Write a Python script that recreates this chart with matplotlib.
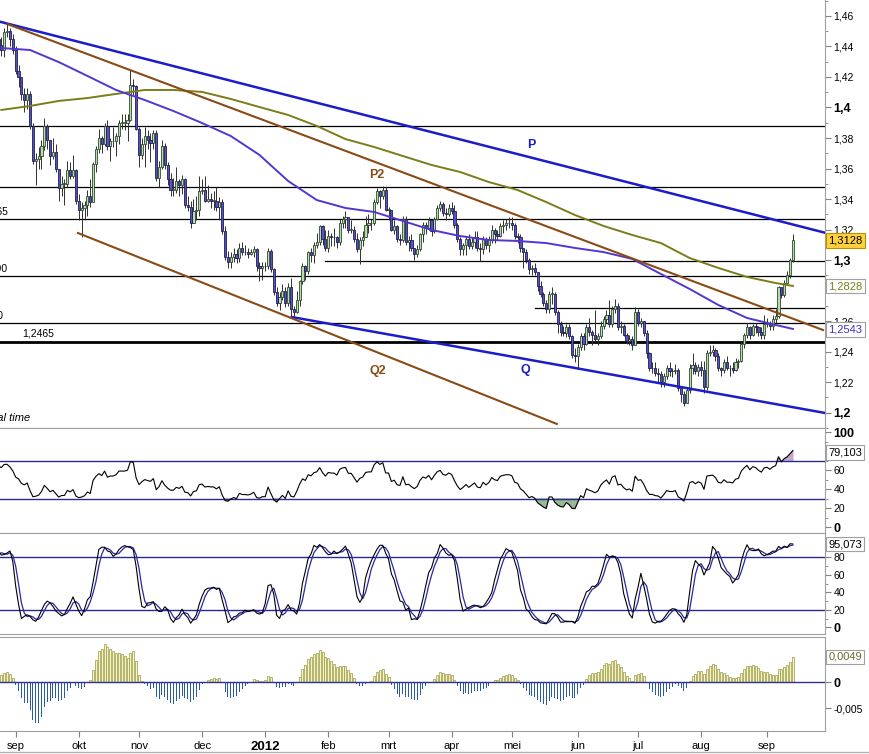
import numpy as np
import pandas as pd
import matplotlib
matplotlib.use("Agg")
import matplotlib.pyplot as plt
from matplotlib.lines import Line2D

plt.rcParams["font.family"] = ["Liberation Sans", "DejaVu Sans"]

# EUR/USD daily candles from 25 jul 2011 to 14 sep 2012.
# the first 23 days are only there to warm up the indicators (outside the view)
start_date = "2011-07-25"
n_warm = 23
first_open = 1.4370

close = [
    # jul/aug 2011 (warm-up)
    1.4380, 1.4500, 1.4430, 1.4320, 1.4390, 1.4250, 1.4190, 1.4310, 1.4080, 1.4280, 1.4180, 1.4390,
    1.4190, 1.4240, 1.4240, 1.4440, 1.4400, 1.4440, 1.4320, 1.4390, 1.4400, 1.4450, 1.4410,
    # aug 2011
    1.4380, 1.4495, 1.4500, 1.4450, 1.4375,
    # sep
    1.4240, 1.4200, 1.4090, 1.4050, 1.4090, 1.3880, 1.3650, 1.3660, 1.3680, 1.3750, 1.3880,
    1.3790, 1.3680, 1.3710, 1.3600, 1.3470, 1.3500, 1.3500, 1.3590, 1.3550, 1.3590, 1.3390,
    # okt
    1.3330, 1.3340, 1.3360, 1.3420, 1.3380, 1.3630, 1.3730, 1.3800, 1.3760, 1.3880, 1.3750,
    1.3780, 1.3780, 1.3810, 1.3900, 1.3900, 1.3900, 1.3920, 1.4150, 1.4140, 1.3860,
    # nov
    1.3690, 1.3760, 1.3810, 1.3790, 1.3770, 1.3830, 1.3540, 1.3610, 1.3750, 1.3620, 1.3530,
    1.3460, 1.3460, 1.3520, 1.3490, 1.3530, 1.3360, 1.3350, 1.3240, 1.3320, 1.3330, 1.3450,
    # dec
    1.3460, 1.3390, 1.3400, 1.3390, 1.3390, 1.3350, 1.3380, 1.3190, 1.3020, 1.2990, 1.3020,
    1.3040, 1.3010, 1.3080, 1.3050, 1.3050, 1.3040, 1.3050, 1.3070, 1.2960, 1.2945, 1.2960,
    # jan 2012
    1.2960, 1.3060, 1.2940, 1.2790, 1.2720, 1.2760, 1.2800, 1.2720, 1.2820, 1.2680, 1.2660,
    1.2740, 1.2860, 1.2960, 1.2930, 1.3050, 1.3030, 1.3100, 1.3120, 1.3220, 1.3140, 1.3080,
    # feb
    1.3160, 1.3150, 1.3150, 1.3120, 1.3240, 1.3270, 1.3280, 1.3200, 1.3200, 1.3140, 1.3070,
    1.3130, 1.3150, 1.3230, 1.3240, 1.3240, 1.3380, 1.3450, 1.3420, 1.3460, 1.3330,
    # mrt
    1.3330, 1.3200, 1.3220, 1.3140, 1.3130, 1.3270, 1.3120, 1.3130, 1.3080, 1.3040, 1.3070,
    1.3170, 1.3230, 1.3210, 1.3260, 1.3190, 1.3270, 1.3340, 1.3370, 1.3310, 1.3300, 1.3340,
    # apr
    1.3320, 1.3230, 1.3140, 1.3070, 1.3100, 1.3140, 1.3090, 1.3120, 1.3150, 1.3080, 1.3070,
    1.3140, 1.3100, 1.3130, 1.3200, 1.3170, 1.3160, 1.3220, 1.3230, 1.3240, 1.3240,
    # mei
    1.3230, 1.3160, 1.3150, 1.3080, 1.3050, 1.3000, 1.2940, 1.2950, 1.2920, 1.2830, 1.2780,
    1.2720, 1.2680, 1.2780, 1.2780, 1.2660, 1.2580, 1.2530, 1.2520, 1.2560, 1.2500, 1.2380, 1.2370,
    # jun
    1.2430, 1.2500, 1.2450, 1.2560, 1.2530, 1.2510, 1.2480, 1.2500, 1.2570, 1.2610, 1.2640,
    1.2580, 1.2680, 1.2700, 1.2560, 1.2570, 1.2510, 1.2470, 1.2480, 1.2440, 1.2660,
    # jul
    1.2590, 1.2600, 1.2520, 1.2390, 1.2290, 1.2290, 1.2260, 1.2250, 1.2200, 1.2240, 1.2290,
    1.2270, 1.2270, 1.2280, 1.2160, 1.2120, 1.2060, 1.2150, 1.2290, 1.2310, 1.2270, 1.2300,
    # aug
    1.2280, 1.2170, 1.2390, 1.2400, 1.2410, 1.2370, 1.2290, 1.2280, 1.2330, 1.2290, 1.2290,
    1.2280, 1.2330, 1.2340, 1.2450, 1.2510, 1.2560, 1.2510, 1.2570, 1.2560, 1.2530, 1.2510, 1.2580,
    # sep
    1.2590, 1.2570, 1.2610, 1.2630, 1.2820, 1.2770, 1.2850, 1.2900, 1.3000, 1.3128,
]

high = [
    1.4440, 1.4520, 1.4530, 1.4440, 1.4420, 1.4450, 1.4290, 1.4330, 1.4340, 1.4330, 1.4360, 1.4400,
    1.4410, 1.4270, 1.4300, 1.4460, 1.4480, 1.4470, 1.4440, 1.4430, 1.4440, 1.4490, 1.4470,
    1.4460, 1.4520, 1.4545, 1.4520, 1.4480,
    1.4400, 1.4280, 1.4200, 1.4130, 1.4130, 1.4110, 1.3900, 1.3700, 1.3740, 1.3790, 1.3930,
    1.3890, 1.3760, 1.3800, 1.3760, 1.3580, 1.3550, 1.3530, 1.3650, 1.3640, 1.3690, 1.3600,
    1.3430, 1.3380, 1.3390, 1.3460, 1.3530, 1.3640, 1.3750, 1.3860, 1.3810, 1.3900, 1.3915,
    1.3800, 1.3870, 1.3830, 1.3920, 1.3960, 1.3960, 1.3960, 1.4247, 1.4190, 1.4150,
    1.3870, 1.3800, 1.3870, 1.3850, 1.3830, 1.3850, 1.3850, 1.3650, 1.3790, 1.3770, 1.3640,
    1.3570, 1.3540, 1.3610, 1.3530, 1.3560, 1.3540, 1.3420, 1.3390, 1.3400, 1.3420, 1.3550,
    1.3530, 1.3550, 1.3490, 1.3440, 1.3450, 1.3480, 1.3410, 1.3400, 1.3220, 1.3060, 1.3050,
    1.3080, 1.3070, 1.3110, 1.3120, 1.3100, 1.3080, 1.3070, 1.3090, 1.3080, 1.2990, 1.2990,
    1.2990, 1.3080, 1.3070, 1.2950, 1.2820, 1.2790, 1.2840, 1.2820, 1.2850, 1.2880, 1.2700,
    1.2800, 1.2870, 1.2980, 1.2970, 1.3060, 1.3080, 1.3120, 1.3180, 1.3230, 1.3230, 1.3200,
    1.3200, 1.3180, 1.3210, 1.3160, 1.3270, 1.3290, 1.3320, 1.3270, 1.3260, 1.3220, 1.3180,
    1.3150, 1.3190, 1.3290, 1.3300, 1.3270, 1.3400, 1.3470, 1.3460, 1.3485, 1.3480,
    1.3350, 1.3330, 1.3260, 1.3230, 1.3170, 1.3290, 1.3290, 1.3160, 1.3170, 1.3080, 1.3100,
    1.3180, 1.3250, 1.3250, 1.3280, 1.3270, 1.3280, 1.3360, 1.3385, 1.3380, 1.3340, 1.3370,
    1.3380, 1.3360, 1.3240, 1.3150, 1.3110, 1.3150, 1.3170, 1.3150, 1.3190, 1.3190, 1.3110,
    1.3160, 1.3150, 1.3160, 1.3230, 1.3210, 1.3200, 1.3240, 1.3260, 1.3270, 1.3280,
    1.3280, 1.3240, 1.3180, 1.3170, 1.3080, 1.3070, 1.3010, 1.2970, 1.2980, 1.2920, 1.2860,
    1.2790, 1.2740, 1.2800, 1.2820, 1.2790, 1.2670, 1.2600, 1.2570, 1.2580, 1.2580, 1.2510, 1.2420,
    1.2450, 1.2520, 1.2520, 1.2580, 1.2620, 1.2540, 1.2670, 1.2520, 1.2600, 1.2630, 1.2670,
    1.2740, 1.2700, 1.2745, 1.2720, 1.2600, 1.2580, 1.2520, 1.2510, 1.2500, 1.2690,
    1.2680, 1.2620, 1.2600, 1.2540, 1.2400, 1.2330, 1.2330, 1.2290, 1.2270, 1.2260, 1.2310,
    1.2330, 1.2290, 1.2320, 1.2290, 1.2160, 1.2140, 1.2170, 1.2320, 1.2390, 1.2330, 1.2320,
    1.2340, 1.2340, 1.2410, 1.2440, 1.2440, 1.2420, 1.2390, 1.2300, 1.2350, 1.2370, 1.2310,
    1.2330, 1.2360, 1.2350, 1.2470, 1.2520, 1.2590, 1.2570, 1.2580, 1.2590, 1.2570, 1.2560, 1.2640,
    1.2620, 1.2600, 1.2640, 1.2680, 1.2830, 1.2820, 1.2870, 1.2930, 1.3010, 1.3170,
]

low = [
    1.4340, 1.4370, 1.4400, 1.4270, 1.4290, 1.4230, 1.4150, 1.4140, 1.4060, 1.3980, 1.4140, 1.4150,
    1.4170, 1.4110, 1.4150, 1.4220, 1.4380, 1.4350, 1.4250, 1.4280, 1.4330, 1.4370, 1.4350,
    1.4340, 1.4330, 1.4460, 1.4400, 1.4350,
    1.4220, 1.4135, 1.4050, 1.3970, 1.3990, 1.3860, 1.3630, 1.3495, 1.3600, 1.3600, 1.3720,
    1.3730, 1.3620, 1.3660, 1.3580, 1.3385, 1.3420, 1.3360, 1.3480, 1.3530, 1.3540, 1.3370,
    1.3260, 1.3150, 1.3260, 1.3290, 1.3350, 1.3390, 1.3580, 1.3700, 1.3700, 1.3750, 1.3720,
    1.3650, 1.3740, 1.3680, 1.3760, 1.3860, 1.3850, 1.3780, 1.3910, 1.4080, 1.3850,
    1.3610, 1.3660, 1.3610, 1.3730, 1.3640, 1.3730, 1.3520, 1.3480, 1.3600, 1.3600, 1.3490,
    1.3420, 1.3420, 1.3440, 1.3420, 1.3430, 1.3340, 1.3320, 1.3210, 1.3290, 1.3260, 1.3290,
    1.3430, 1.3380, 1.3380, 1.3340, 1.3330, 1.3320, 1.3260, 1.3170, 1.3000, 1.2945, 1.2950,
    1.2990, 1.2980, 1.2990, 1.3030, 1.3030, 1.3010, 1.3030, 1.3020, 1.2930, 1.2860, 1.2870,
    1.2930, 1.2940, 1.2920, 1.2770, 1.2700, 1.2670, 1.2740, 1.2690, 1.2700, 1.2624, 1.2625,
    1.2650, 1.2700, 1.2840, 1.2870, 1.2910, 1.2990, 1.2980, 1.3080, 1.3100, 1.3100, 1.3060,
    1.3050, 1.3090, 1.3090, 1.3080, 1.3100, 1.3210, 1.3210, 1.3180, 1.3180, 1.3120, 1.3050,
    1.2975, 1.3090, 1.3150, 1.3180, 1.3200, 1.3230, 1.3370, 1.3340, 1.3400, 1.3320,
    1.3260, 1.3190, 1.3170, 1.3120, 1.3100, 1.3120, 1.3100, 1.3060, 1.3060, 1.3000, 1.3020,
    1.3060, 1.3120, 1.3170, 1.3200, 1.3160, 1.3180, 1.3260, 1.3320, 1.3290, 1.3260, 1.3290,
    1.3300, 1.3210, 1.3120, 1.3030, 1.3030, 1.3030, 1.3070, 1.3070, 1.3080, 1.3060, 1.2995,
    1.3040, 1.3070, 1.3050, 1.3110, 1.3110, 1.3130, 1.3150, 1.3180, 1.3200, 1.3210,
    1.3200, 1.3140, 1.3110, 1.3050, 1.2950, 1.2980, 1.2910, 1.2900, 1.2900, 1.2800, 1.2760,
    1.2700, 1.2650, 1.2650, 1.2710, 1.2640, 1.2520, 1.2500, 1.2500, 1.2495, 1.2480, 1.2360, 1.2330,
    1.2288, 1.2410, 1.2410, 1.2440, 1.2500, 1.2440, 1.2460, 1.2440, 1.2490, 1.2550, 1.2590,
    1.2560, 1.2560, 1.2650, 1.2540, 1.2520, 1.2500, 1.2450, 1.2440, 1.2410, 1.2440,
    1.2570, 1.2560, 1.2500, 1.2360, 1.2270, 1.2260, 1.2240, 1.2200, 1.2165, 1.2170, 1.2220,
    1.2240, 1.2230, 1.2250, 1.2140, 1.2070, 1.2042, 1.2060, 1.2130, 1.2250, 1.2250, 1.2240,
    1.2240, 1.2130, 1.2150, 1.2370, 1.2370, 1.2340, 1.2270, 1.2240, 1.2260, 1.2280, 1.2240,
    1.2260, 1.2270, 1.2290, 1.2330, 1.2420, 1.2490, 1.2480, 1.2500, 1.2520, 1.2500, 1.2480, 1.2480,
    1.2560, 1.2540, 1.2540, 1.2590, 1.2620, 1.2750, 1.2760, 1.2840, 1.2880, 1.2990,
]

# moving averages, every 10 trading days (day 0 = 25 aug 2011)
ma_x = [0, 10, 20, 30, 40, 50, 60, 70, 80, 90, 100, 110, 120, 130, 140,
        150, 160, 170, 180, 190, 200, 210, 220, 230, 240, 250, 260, 270, 276]
ma_fast = [1.4390, 1.4377, 1.4298, 1.4207, 1.4115, 1.4049, 1.3977, 1.3898, 1.3813, 1.3689,
           1.3518, 1.3393, 1.3341, 1.3315, 1.3256, 1.3197, 1.3157, 1.3131, 1.3125, 1.3111,
           1.3079, 1.3052, 1.3007, 1.2908, 1.2810, 1.2705, 1.2620, 1.2574, 1.2548]
ma_slow = [1.3984, 1.4010, 1.4043, 1.4062, 1.4089, 1.4115, 1.4115, 1.4102, 1.4056, 1.4003,
           1.3951, 1.3879, 1.3793, 1.3741, 1.3682, 1.3623, 1.3577, 1.3511, 1.3459, 1.3380,
           1.3295, 1.3223, 1.3164, 1.3111, 1.3013, 1.2948, 1.2889, 1.2849, 1.2830]

# trend lines (day, price)
trend_P = ([-1, 288], [1.4565, 1.3175])
trend_P2 = ([2, 286.5], [1.4548, 1.2541])
trend_Q2 = ([26.7, 193.7], [1.3177, 1.1925])
trend_Q = ([101.3, 287.2], [1.2626, 1.1997])

# horizontal support / resistance levels
levels = [1.3877, 1.3477, 1.3267, 1.2993, 1.2893, 1.2685, 1.2585, 1.2465]
level_start = [None, None, None, 113, None, 186, None, None]

price_ticks = [1.20, 1.22, 1.24, 1.26, 1.28, 1.30, 1.32, 1.34, 1.36, 1.38, 1.40, 1.42, 1.44, 1.46]
# 1,28 sits under the moving-average tag, as on the original
price_labels = ["1,2", "1,22", "1,24", "1,26", "", "1,3", "1,32", "1,34", "1,36", "1,38",
                "1,4", "1,42", "1,44", "1,46"]
osc_ticks = [0, 20, 40, 60, 80, 100]
rsi_labels = ["0", "20", "40", "60", "", "100"]
stoch_labels = ["0", "20", "40", "60", "80", ""]
macd_ticks = [-0.005, 0, 0.005]
macd_labels = ["-0,005", "0", ""]
month_labels = ["sep", "okt", "nov", "dec", "2012", "feb", "mrt", "apr", "mei", "jun", "jul", "aug", "sep"]

last_price = "1,3128"
last_slow = "1,2828"
last_fast = "1,2543"
last_rsi = "79,103"
last_stoch = "95,073"
last_macd = "0,0049"


def num(s):
    return float(s.replace(",", "."))


close = np.array(close)
n = len(close)
dates = pd.bdate_range(start_date, periods=n)
x = np.arange(n) - n_warm
op = np.r_[first_open, close[:-1]]
hi = np.maximum(np.array(high), np.maximum(op, close))
lo = np.minimum(np.array(low), np.minimum(op, close))

s = pd.Series(close)
# rsi 14 (wilder)
d = s.diff()
g = d.clip(lower=0).ewm(alpha=1 / 14, adjust=False).mean()
l = (-d.clip(upper=0)).ewm(alpha=1 / 14, adjust=False).mean()
rsi = (100 - 100 / (1 + g / l)).values
# stochastic 14,3,3
hh = pd.Series(hi).rolling(14, min_periods=1).max()
ll = pd.Series(lo).rolling(14, min_periods=1).min()
fast_k = 100 * (s - ll) / (hh - ll)
st_k = fast_k.rolling(3, min_periods=1).mean()
st_d = st_k.rolling(3, min_periods=1).mean()
# macd 12,26,9
macd = s.ewm(span=12, adjust=False).mean() - s.ewm(span=26, adjust=False).mean()
hist = (macd - macd.ewm(span=9, adjust=False).mean()).values

W, H = 869, 754
fig = plt.figure(figsize=(W / 100, H / 100), dpi=100)


def frame(top, bottom):
    return [0, 1 - bottom / H, 825 / W, (bottom - top) / H]


ax = fig.add_axes(frame(0, 428))
ax_r = fig.add_axes(frame(428, 533), sharex=ax)
ax_s = fig.add_axes(frame(533, 634), sharex=ax)
ax_m = fig.add_axes(frame(637, 731), sharex=ax)

grey = "#a0a0a0"
navy = "#2a2a8c"
for a in (ax, ax_r, ax_s, ax_m):
    a.yaxis.tick_right()
    a.spines["left"].set_visible(False)
    for sp in ("top", "bottom", "right"):
        a.spines[sp].set_color(grey)
    a.tick_params(axis="y", which="both", direction="out", color="#808080", labelsize=7.5, pad=2)
    a.tick_params(axis="y", which="major", length=4)
    a.tick_params(axis="y", which="minor", length=2.5)
    a.set_xlim(-0.47, 287.2)
for a in (ax, ax_r, ax_s):
    a.tick_params(axis="x", bottom=False, labelbottom=False)
ax.spines["top"].set_visible(False)

# --- price panel
for lv, st in zip(levels, level_start):
    x0 = -1 if st is None else st
    ax.plot([x0, 290], [lv, lv], color="black", lw=2 if lv == levels[-1] else 0.9, zorder=2)

ax.plot(ma_x, ma_slow, color="#7c7c18", lw=1.4, zorder=6)
ax.plot(ma_x, ma_fast, color="#5535d0", lw=1.4, zorder=6)
ax.plot(*trend_P, color="#1c1cc8", lw=1.8, zorder=6)
ax.plot(*trend_Q, color="#1c1cc8", lw=1.8, zorder=6)
ax.plot(*trend_P2, color="#8a4a14", lw=1.5, zorder=6)
ax.plot(*trend_Q2, color="#8a4a14", lw=1.5, zorder=6)

up = close >= op
body_lo = np.minimum(op, close)
body_h = np.maximum(np.abs(close - op), 0.0003)
ax.vlines(x, lo, hi, color="#303030", lw=0.7, zorder=4)
ax.bar(x[up], body_h[up], bottom=body_lo[up], width=0.75, color="#b8dcae",
       edgecolor="#2d4b2d", lw=0.6, zorder=5)
ax.bar(x[~up], body_h[~up], bottom=body_lo[~up], width=0.75, color="#5a50c6",
       edgecolor="#1e1e50", lw=0.6, zorder=5)

ax.text(184.7, 1.3754, "P", color="#1c1cc8", fontsize=9, fontweight="bold", ha="center", va="center", zorder=7)
ax.text(131.0, 1.3557, "P2", color="#8a4a14", fontsize=9, fontweight="bold", ha="center", va="center", zorder=7)
ax.text(182.6, 1.2279, "Q", color="#1c1cc8", fontsize=9, fontweight="bold", ha="center", va="center", zorder=7)
ax.text(131.3, 1.2272, "Q2", color="#8a4a14", fontsize=9, fontweight="bold", ha="center", va="center", zorder=7)

for txt, lv, xr in (("1,3265", levels[2], 2.3), ("1,2890", levels[4], 2.0), ("1,2590", levels[6], 0.8)):
    ax.annotate(txt, (xr, lv), xytext=(0, 2), textcoords="offset points", ha="right", va="bottom",
                fontsize=7.5, zorder=7)
ax.annotate("1,2465", (7.2, levels[7]), xytext=(0, 2), textcoords="offset points", ha="left",
            va="bottom", fontsize=7.5, zorder=7)
ax.text(10.0, 1.1964, "Real time", style="italic", fontsize=8, ha="right", va="center")

ax.set_ylim(1.18984, 1.47049)
ax.set_yticks(price_ticks)
ax.set_yticklabels(price_labels)
ax.set_yticks(np.arange(1.19, 1.475, 0.01), minor=True)


def tag(a, txt, fc, ec, tc):
    a.text(1.004, num(txt), txt, transform=a.get_yaxis_transform(), ha="left", va="center",
           fontsize=8, color=tc, zorder=10, clip_on=False,
           bbox=dict(boxstyle="square,pad=0.2", fc=fc, ec=ec, lw=0.8))


tag(ax, last_price, "#ffd23c", "#b89000", "black")
tag(ax, last_slow, "white", grey, "#7c7c18")
tag(ax, last_fast, "white", grey, "#4030c0")

# --- rsi panel
ax_r.plot(x, rsi, color="black", lw=0.8, zorder=4)
ax_r.axhline(70, color=navy, lw=1, zorder=3)
ax_r.axhline(30, color=navy, lw=1, zorder=3)
ax_r.fill_between(x, rsi, 30, where=rsi < 30, interpolate=True, color="#98b898", zorder=2)
ax_r.fill_between(x, rsi, 70, where=rsi > 70, interpolate=True, color="#c8a8c8", zorder=2)
ax_r.set_ylim(-5.8, 104.7)
ax_r.set_yticks(osc_ticks)
ax_r.set_yticklabels(rsi_labels)
ax_r.set_yticks([10, 30, 50, 70, 90], minor=True)
tag(ax_r, last_rsi, "white", grey, "black")

# --- stochastic panel
ax_s.plot(x, st_d, color="#2828a8", lw=0.9, zorder=3)
ax_s.plot(x, st_k, color="black", lw=0.8, zorder=4)
ax_s.axhline(80, color=navy, lw=1, zorder=2)
ax_s.axhline(20, color=navy, lw=1, zorder=2)
ax_s.set_ylim(-7.6, 107.7)
ax_s.set_yticks(osc_ticks)
ax_s.set_yticklabels(stoch_labels)
ax_s.set_yticks([10, 30, 50, 70, 90], minor=True)
tag(ax_s, last_stoch, "white", grey, "black")

# --- macd histogram
pos = hist >= 0
ax_m.bar(x[pos], hist[pos], width=0.7, color="#f6f6bc", edgecolor="#8c8c3c", lw=0.45, zorder=3)
ax_m.bar(x[~pos], hist[~pos], width=0.35, color="#2a5aa8", lw=0, zorder=3)
ax_m.axhline(0, color="#303090", lw=1, zorder=4)
ax_m.set_ylim(-0.00937, 0.00871)
ax_m.set_yticks(macd_ticks)
ax_m.set_yticklabels(macd_labels)
tag(ax_m, last_macd, "white", grey, "#6b6b2a")

# bold round numbers on the scales
for a, bold in ((ax, ("1,2", "1,3", "1,4")), (ax_r, ("0", "100")), (ax_s, ("0",)), (ax_m, ("0",))):
    for t in a.get_yticklabels():
        if t.get_text() in bold:
            t.set_fontweight("bold")
            t.set_fontsize(9)

# month ticks at the first trading day of each month
mpos = [x[i] for i in range(n_warm + 1, n) if dates[i].month != dates[i - 1].month]
ax_m.set_xticks(mpos)
ax_m.set_xticklabels(month_labels[:len(mpos)])
ax_m.tick_params(axis="x", direction="out", length=4, color="#808080", labelsize=8, pad=3)
for t in ax_m.get_xticklabels():
    if t.get_text() == "2012":
        t.set_fontweight("bold")
        t.set_fontsize(9.5)

fig.add_artist(Line2D([0, 1], [0.0027, 0.0027], color="#b0b0b0", lw=1, transform=fig.transFigure))

fig.savefig("out.png", dpi=100)
